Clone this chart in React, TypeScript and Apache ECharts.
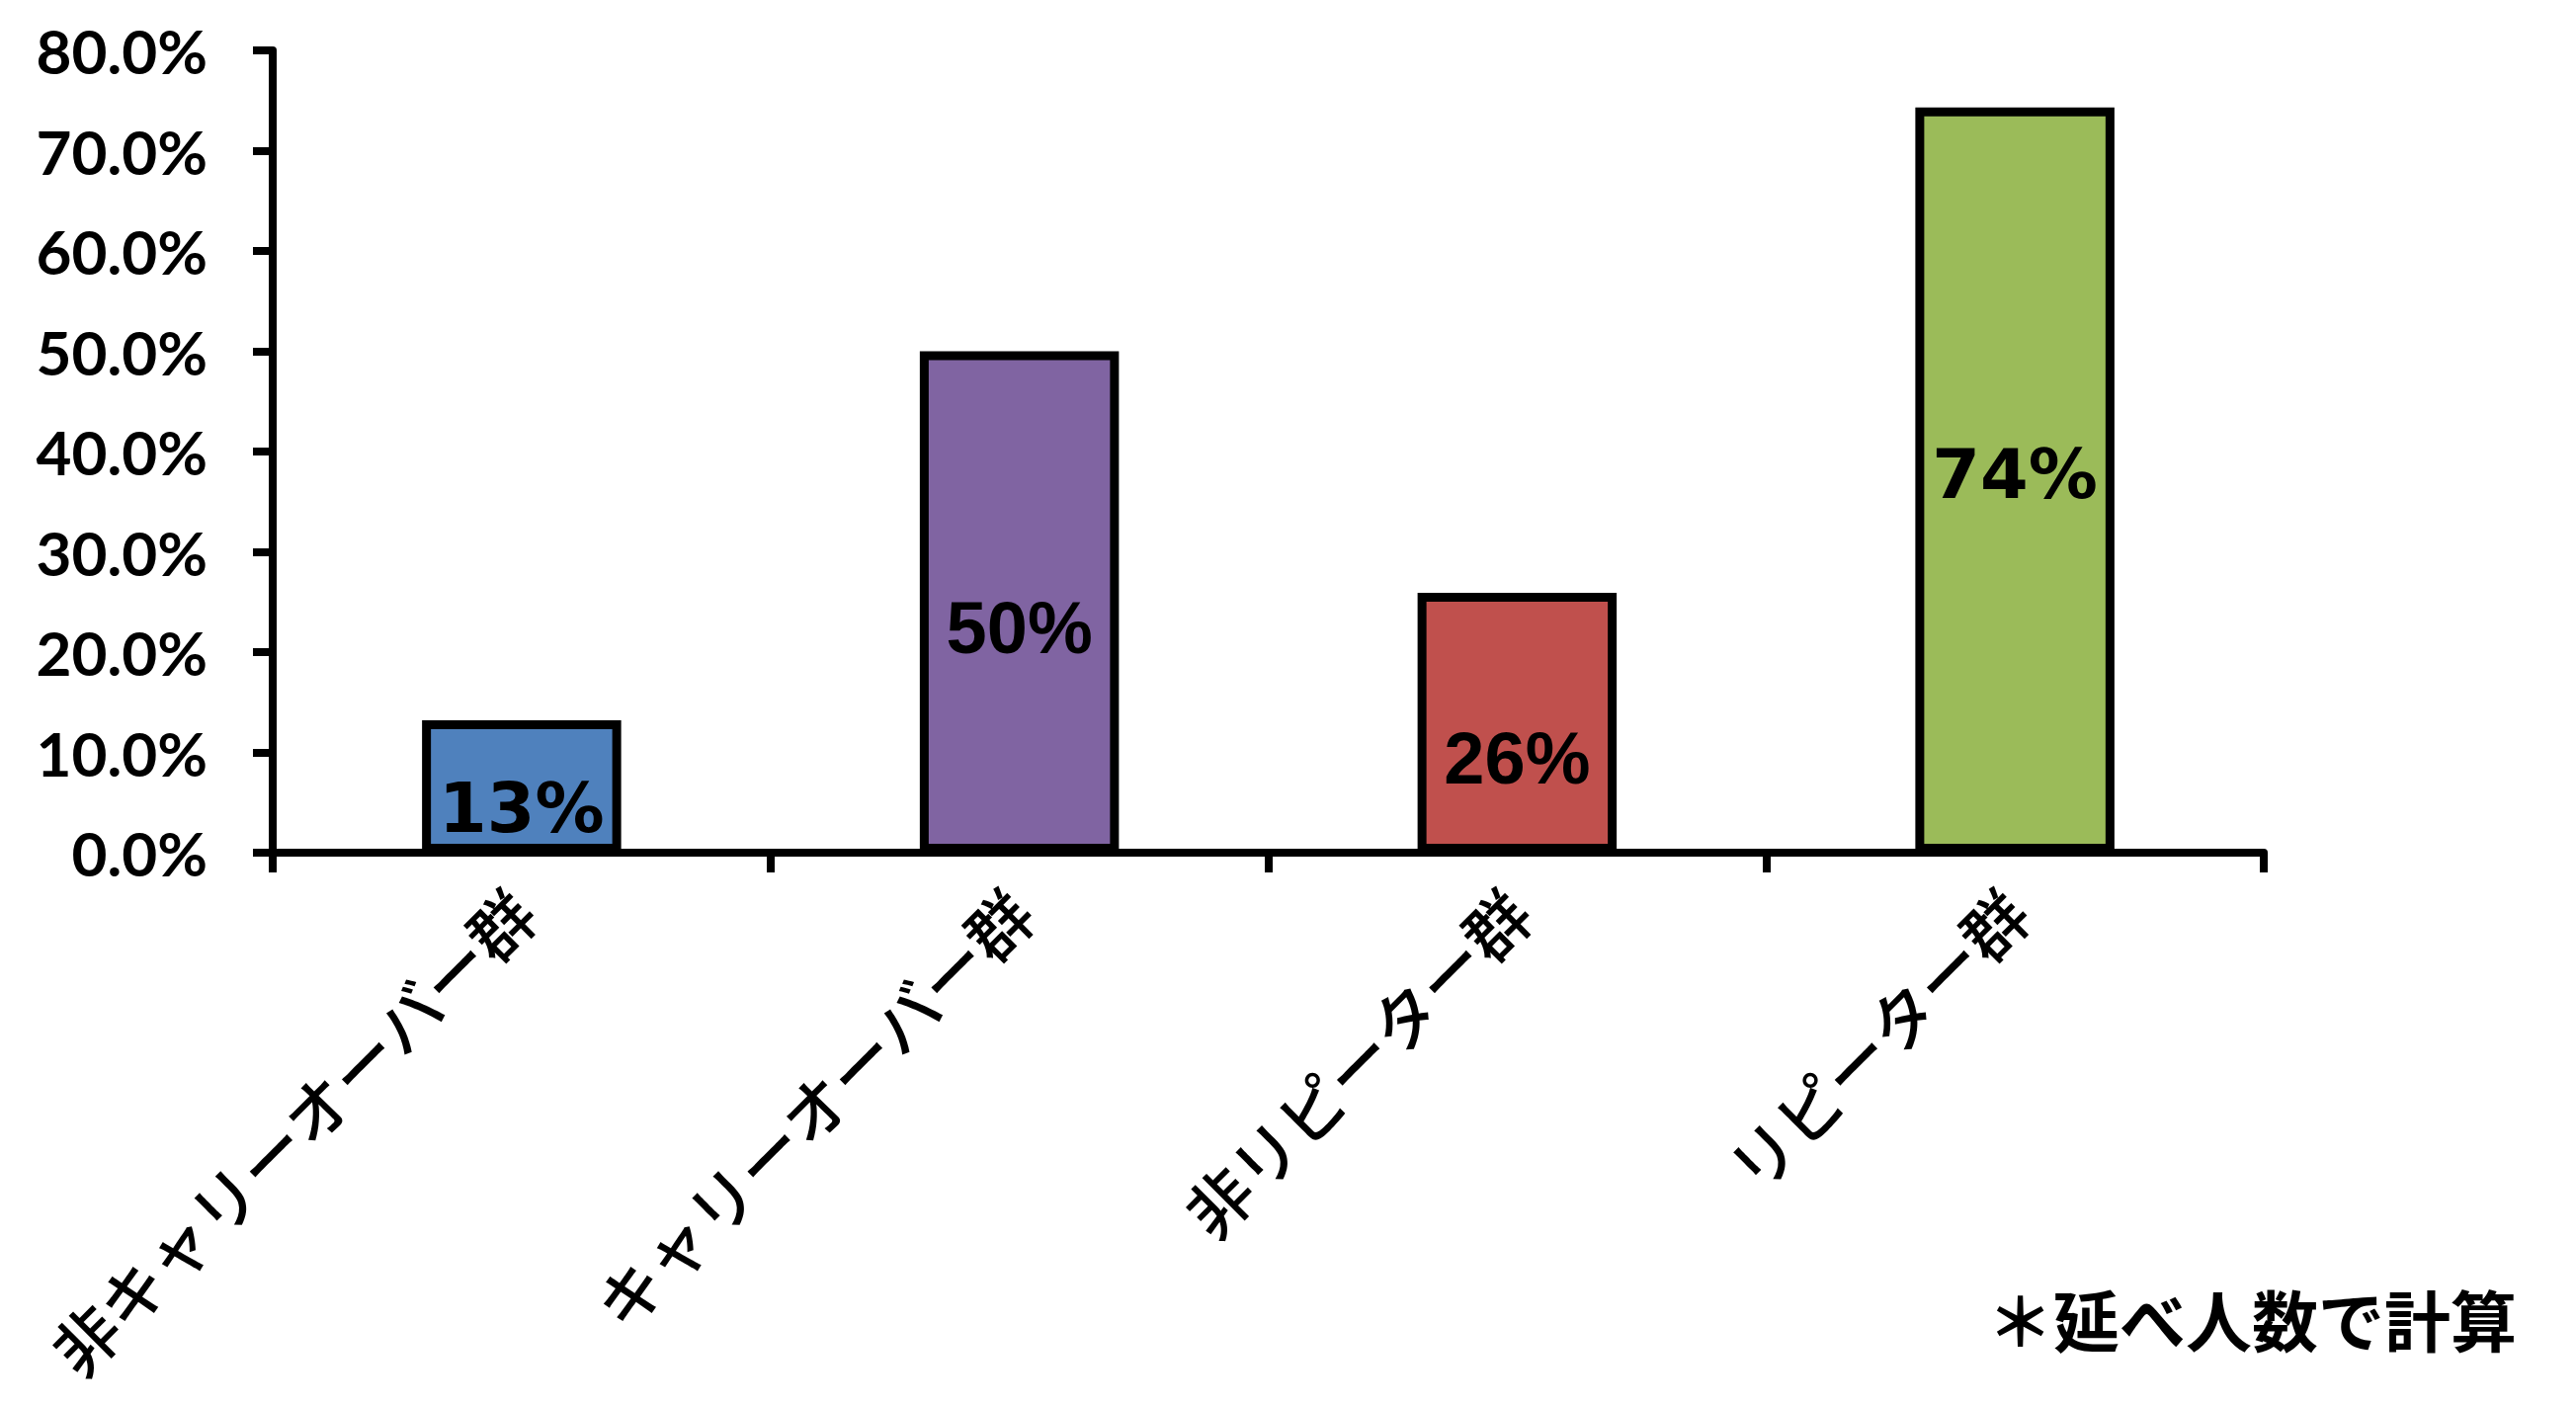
import React, { useEffect, useRef } from "react";
import * as echarts from "echarts";

const categories = ["非キャリーオーバー群", "キャリーオーバー群", "非リピーター群", "リピーター群"];
const values = [0.132, 0.5, 0.259, 0.743];
const valueLabels = ["13%", "50%", "26%", "74%"];
const barColors = ["#4F81BD", "#8064A2", "#C0504D", "#9BBB59"];
const yTicks = [0, 0.1, 0.2, 0.3, 0.4, 0.5, 0.6, 0.7, 0.8];
const footnote = "＊延べ人数で計算";

const labelOffsets = [22, 26, 36, -6];
const labelFonts = ["DejaVu Sans", "Liberation Sans", "Liberation Sans", "DejaVu Sans"];
const labelWeights = ["bold", "bold", "bold", "bold"];
const labelSizes = [70, 74, 74, 70];

export default function App() {
  const ref = useRef<HTMLDivElement>(null);
  useEffect(() => {
    if (!ref.current) return;
    const chart = echarts.init(ref.current, undefined, { renderer: "svg" });
    chart.setOption({
      animation: false,
      backgroundColor: "#ffffff",
      grid: { left: 276, right: 316, top: 51, bottom: 559 },
      xAxis: {
        type: "category",
        data: categories,
        axisLine: { lineStyle: { color: "#000", width: 8 } },
        axisTick: { show: true, length: 20, lineStyle: { color: "#000", width: 8 } },
        axisLabel: {
          interval: 0,
          rotate: 45,
          margin: 48,
          color: "#000",
          fontSize: 66,
          fontWeight: 500,
          fontFamily: "Noto Sans CJK JP",
        },
      },
      yAxis: {
        type: "value",
        min: yTicks[0],
        max: yTicks[yTicks.length - 1],
        interval: 0.1,
        splitLine: { show: false },
        axisLine: { show: true, lineStyle: { color: "#000", width: 8 } },
        axisTick: { show: true, length: 20, lineStyle: { color: "#000", width: 8 } },
        axisLabel: {
          margin: 66,
          color: "#000",
          fontSize: 62,
          fontWeight: "bold",
          fontFamily: "Lato",
          formatter: (v: number) => (v * 100).toFixed(1) + "%",
        },
      },
      series: [
        {
          type: "bar",
          barCategoryGap: "60%",
          data: values.map((v, i) => ({
            value: v,
            itemStyle: { color: barColors[i], borderColor: "#000", borderWidth: 9 },
            label: {
              show: true,
              position: "inside",
              offset: [0, labelOffsets[i]],
              formatter: valueLabels[i],
              color: "#000",
              fontSize: labelSizes[i],
              fontWeight: labelWeights[i],
              fontFamily: labelFonts[i],
            },
          })),
        },
      ],
      graphic: [
        {
          type: "text",
          right: 60,
          top: 1300,
          style: {
            text: footnote,
            fill: "#000",
            fontSize: 67,
            fontWeight: "bold",
            fontFamily: "Noto Sans CJK JP",
          },
        },
      ],
    });
    return () => chart.dispose();
  }, []);
  return (
    <div
      ref={ref}
      style={{ position: "absolute", left: 0, top: 0, width: 2607, height: 1422 }}
    />
  );
}
